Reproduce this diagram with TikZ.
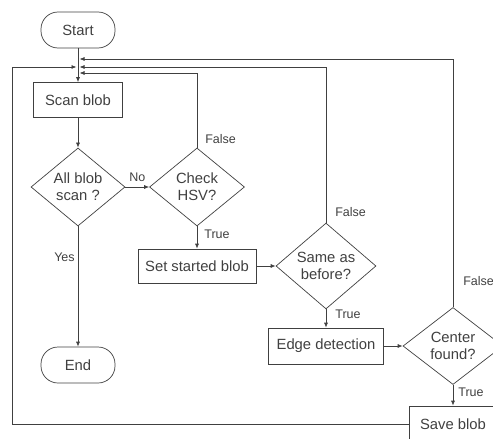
\documentclass[tikz,border=0pt]{standalone}
\usepackage{fontspec}
\setmainfont{Liberation Sans}
\usepackage{tikz}
\usetikzlibrary{shapes.geometric, arrows.meta, positioning}

\begin{document}
\begin{tikzpicture}[x=1pt, y=-1pt, >={Latex[length=5pt,width=4pt]},
  line width=0.7pt, color=black!75,
  terminal/.style={rectangle, rounded corners=17pt, draw, minimum width=74pt,
    minimum height=36pt, font=\fontsize{14.8}{17}\selectfont},
  process/.style={rectangle, draw, minimum height=35pt, align=center,
    font=\fontsize{14.8}{17}\selectfont},
  decision/.style={diamond, draw, inner sep=0pt, align=center,
    font=\fontsize{14.8}{17}\selectfont},
  lbl/.style={font=\fontsize{12.5}{14}\selectfont, inner sep=1pt}]
  \useasboundingbox (0,0) rectangle (493,439);

  \node[terminal] (start) at (78,30) {Start};
  \node[process, minimum width=89pt] (scan) at (78,100) {Scan blob};
  \node[decision, minimum width=94pt, minimum height=78pt] (allscan) at (78,187) {All blob\\scan ?};
  \node[decision, minimum width=95pt, minimum height=78pt] (checkhsv) at (197,187) {Check\\HSV?};
  \node[process, minimum width=118pt, minimum height=34pt] (setblob) at (197,266) {Set started blob};
  \node[decision, minimum width=100pt, minimum height=78pt] (same) at (326,266) {Same as\\before?};
  \node[process, minimum width=115pt, minimum height=36pt] (edge) at (326,346) {Edge detection};
  \node[decision, minimum width=100pt, minimum height=77pt] (center) at (453,346) {Center\\found?};
  \node[process, minimum width=88pt, minimum height=36pt] (save) at (453,424) {Save blob};
  \node[terminal] (end) at (78,365) {End};

  \coordinate (j1) at (78,59);
  \coordinate (j2) at (78,67);
  \coordinate (j3) at (78,73);
  \coordinate (loop) at (12,424);

  \draw[->] (start) -- (scan);
  \draw[->] (scan) -- (allscan);
  \draw[->] (allscan) -- node[lbl, above=4pt] {No} (checkhsv);
  \draw[->] (allscan) -- node[lbl, left=2pt, pos=0.26] {Yes} (end);
  \draw[->] (checkhsv) -- node[lbl, right=6pt, pos=0.35] {True} (setblob);
  \draw[->] (setblob) -- (same);
  \draw[->] (same) -- node[lbl, right=8pt, pos=0.27] {True} (edge);
  \draw[->] (edge) -- (center);
  \draw[->] (center) -- node[lbl, right=4pt, pos=0.38] {True} (save);

  \draw[->, shorten >=1.5pt] (checkhsv.north) |- node[lbl, right=7pt, pos=0.06] {False} (j3);
  \draw[->, shorten >=1.5pt] (same.north) |- node[lbl, right=8pt, pos=0.034] {False} (j2);
  \draw[->, shorten >=1.5pt] (center.north) |- node[lbl, right=9pt, pos=0.052] {False} (j1);
  \draw[->, shorten >=1.5pt] (save.west) -- (loop) |- (j2);
\end{tikzpicture}
\end{document}
